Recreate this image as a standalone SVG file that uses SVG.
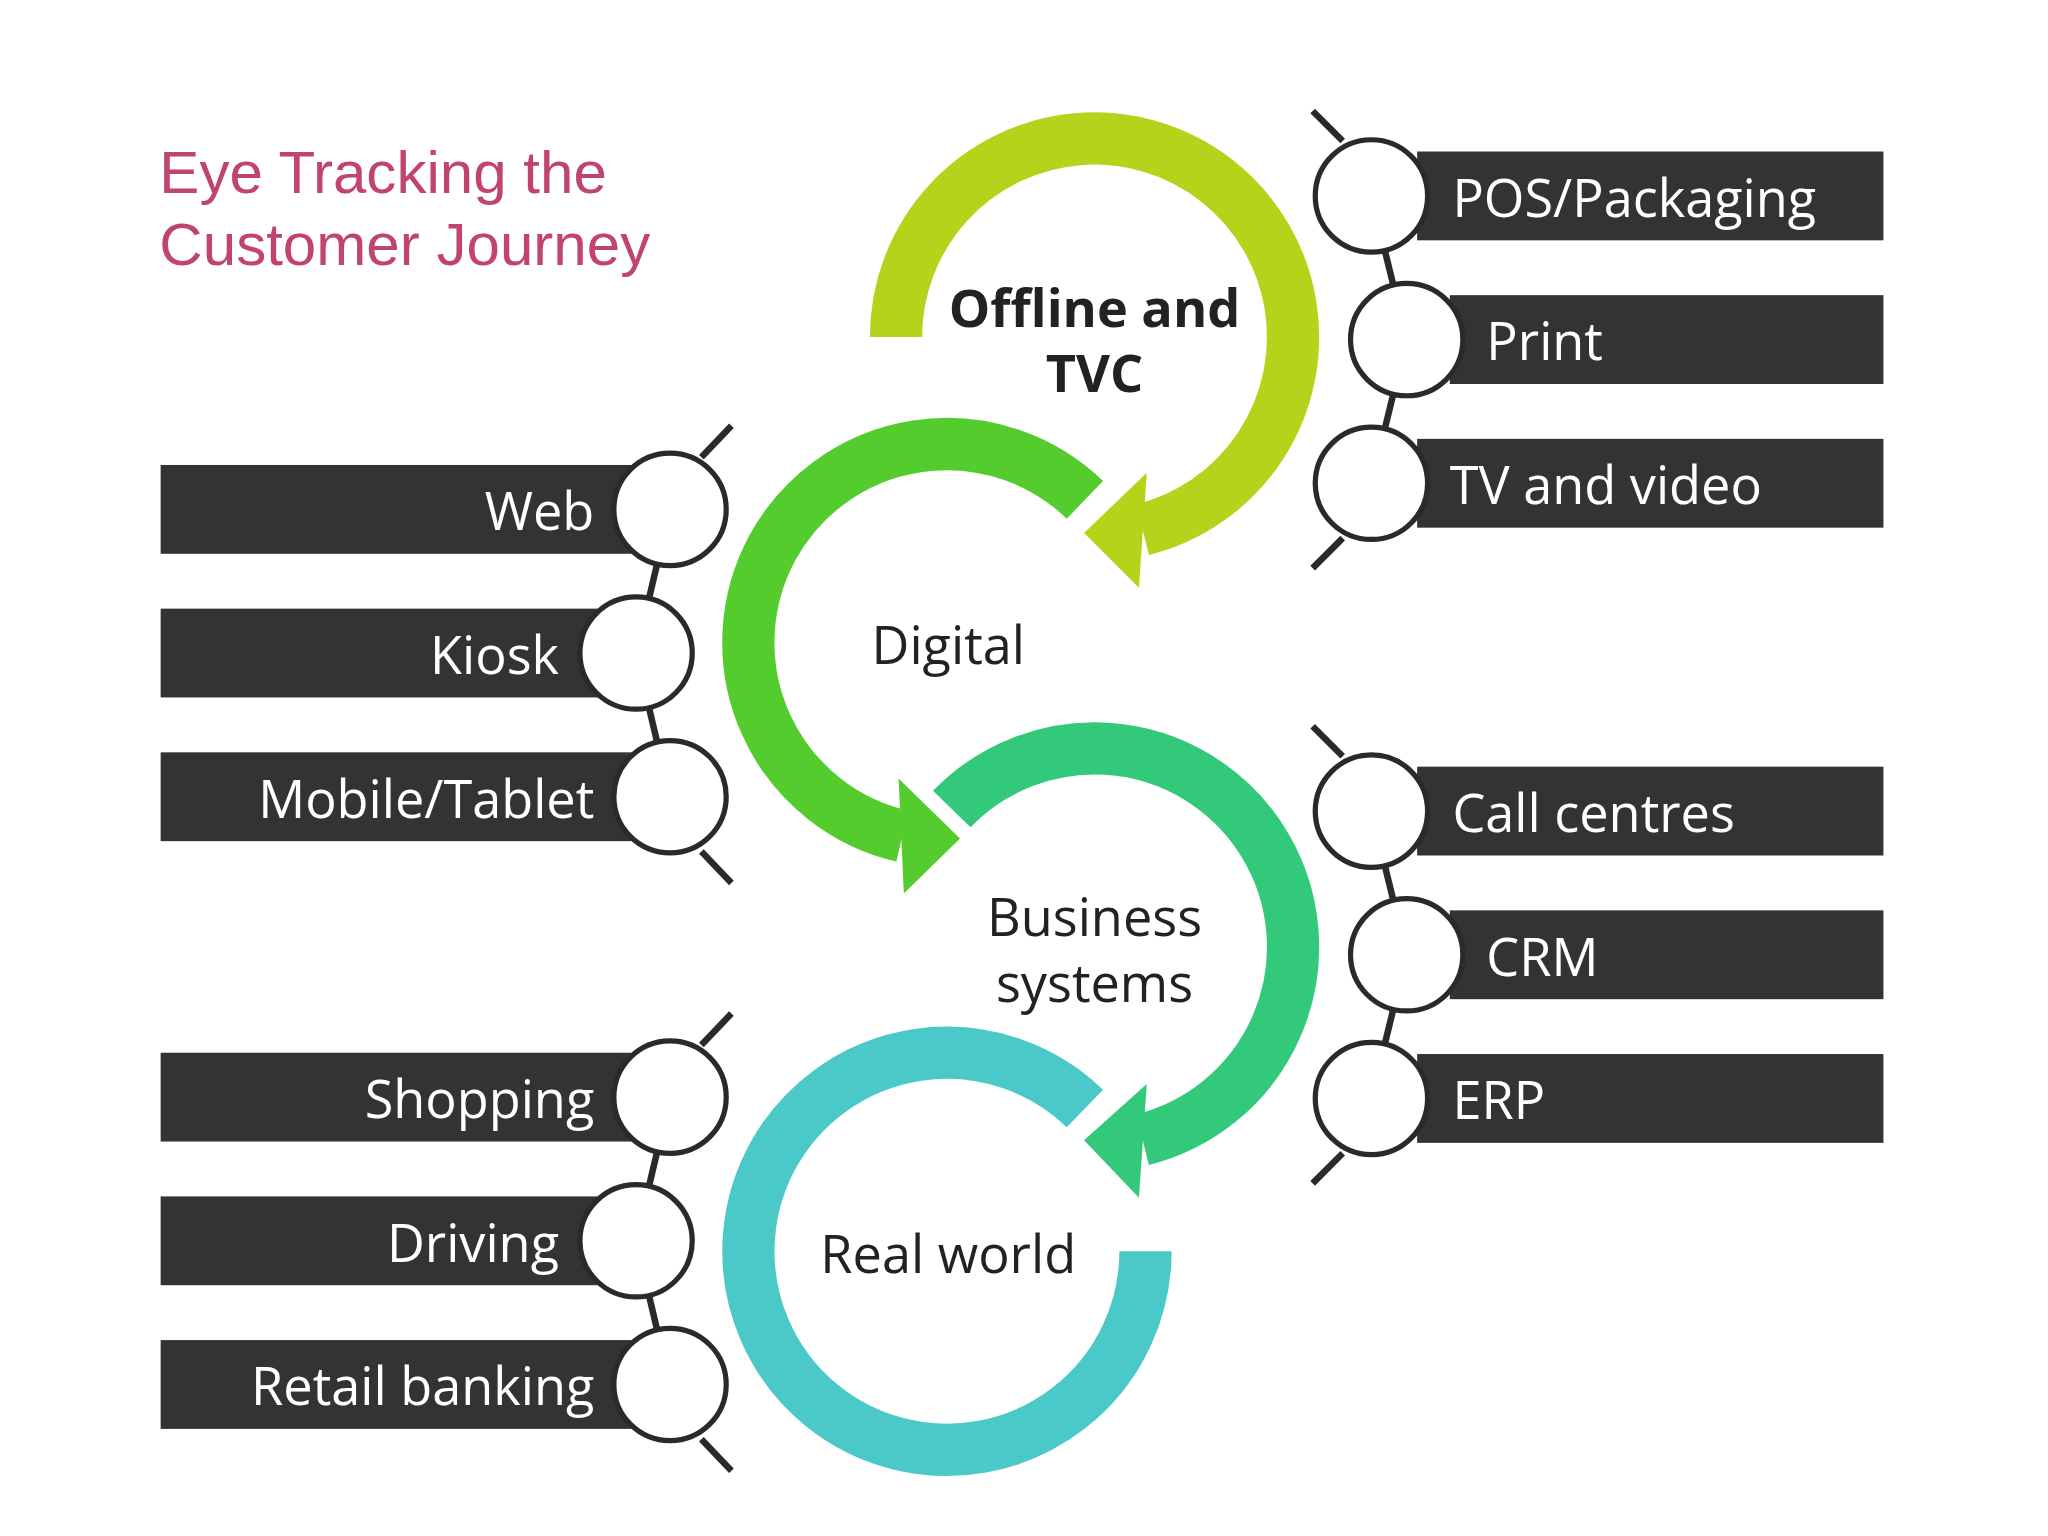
<svg xmlns="http://www.w3.org/2000/svg" width="2048" height="1536" viewBox="0 0 2048 1536">
<style>
.bar{fill:#333235}
.bt{fill:#ffffff;font-family:"Open Sans",sans-serif;font-size:40px}
.ct{fill:#222;font-family:"Open Sans",sans-serif;font-size:40px;text-anchor:middle}
.badge{fill:#fff;stroke:#2a2a2c;stroke-width:4}
.chain{fill:none;stroke:#2a2a2c;stroke-width:5}
.ring{fill:none;stroke-width:40}
</style>
<rect width="2048" height="1536" fill="#fff"/>
<g transform="scale(1.30612)">
<g id="title" font-family="Liberation Sans, sans-serif" font-size="46" fill="#c0446f">
<text x="122" y="148">Eye Tracking the</text>
<text x="122" y="203">Customer Journey</text>
</g>
<g id="connectors">
<path class="ring" stroke="#b5d31b" d="M686,258 A152,152 0 1 1 874.8,405.5"/>
<polygon fill="#b5d31b" points="878,362 872,450 830,408"/>
<path class="ring" stroke="#55cc2e" d="M830.6,382.7 A152,152 0 1 0 690.8,640.1"/>
<polygon fill="#55cc2e" points="688,596 692,684 735,642"/>
<path class="ring" stroke="#33c97a" d="M728.7,619.4 A152,152 0 1 1 874.8,872.5"/>
<polygon fill="#33c97a" points="878,830 872,917 830,873"/>
<path class="ring" stroke="#4bc8c8" d="M830.6,848.7 A152,152 0 1 0 877,958"/>
</g>
<g id="offline"><text class="ct" font-weight="bold" x="838" y="250">Offline and</text><text class="ct" font-weight="bold" x="838" y="300">TVC</text></g>
<g id="digital"><text class="ct" x="726" y="508">Digital</text></g>
<g id="business"><text class="ct" x="838" y="717">Business</text><text class="ct" x="838" y="767">systems</text></g>
<g id="realworld"><text class="ct" x="726" y="975">Real world</text></g>

<g id="right1">
<rect class="bar" x="1085" y="116" width="357" height="68"/>
<rect class="bar" x="1110" y="226" width="332" height="68"/>
<rect class="bar" x="1085" y="336" width="357" height="68"/>
<path class="chain" d="M1005,85 L1028,108 M1050,150 L1077,260 L1050,370 M1028,412 L1005,435"/>
<circle class="badge" cx="1050" cy="150" r="43"/><circle class="badge" cx="1077" cy="260" r="43"/><circle class="badge" cx="1050" cy="370" r="43"/>
<text class="bt" x="1112" y="166">POS/Packaging</text><text class="bt" x="1138" y="276">Print</text><text class="bt" x="1110" y="386">TV and video</text>
</g>
<g id="right2">
<rect class="bar" x="1085" y="587" width="357" height="68"/>
<rect class="bar" x="1110" y="697" width="332" height="68"/>
<rect class="bar" x="1085" y="807" width="357" height="68"/>
<path class="chain" d="M1005,556 L1028,579 M1050,621 L1077,731 L1050,841 M1028,883 L1005,906"/>
<circle class="badge" cx="1050" cy="621" r="43"/><circle class="badge" cx="1077" cy="731" r="43"/><circle class="badge" cx="1050" cy="841" r="43"/>
<text class="bt" x="1112" y="637">Call centres</text><text class="bt" x="1138" y="747">CRM</text><text class="bt" x="1112" y="857">ERP</text>
</g>
<g id="left1">
<rect class="bar" x="123" y="356" width="367" height="68"/>
<rect class="bar" x="123" y="466" width="340" height="68"/>
<rect class="bar" x="123" y="576" width="367" height="68"/>
<path class="chain" d="M560,326 L537,350 M513,390 L487,500 L513,610 M537,652 L560,676"/>
<circle class="badge" cx="513" cy="390" r="43"/><circle class="badge" cx="487" cy="500" r="43"/><circle class="badge" cx="513" cy="610" r="43"/>
<text class="bt" text-anchor="end" x="455" y="406">Web</text><text class="bt" text-anchor="end" x="428" y="516">Kiosk</text><text class="bt" text-anchor="end" x="455" y="626">Mobile/Tablet</text>
</g>
<g id="left2">
<rect class="bar" x="123" y="806" width="367" height="68"/>
<rect class="bar" x="123" y="916" width="340" height="68"/>
<rect class="bar" x="123" y="1026" width="367" height="68"/>
<path class="chain" d="M560,776 L537,800 M513,840 L487,950 L513,1060 M537,1102 L560,1126"/>
<circle class="badge" cx="513" cy="840" r="43"/><circle class="badge" cx="487" cy="950" r="43"/><circle class="badge" cx="513" cy="1060" r="43"/>
<text class="bt" text-anchor="end" x="455" y="856">Shopping</text><text class="bt" text-anchor="end" x="428" y="966">Driving</text><text class="bt" text-anchor="end" x="455" y="1076">Retail banking</text>
</g>
</g>
</svg>
